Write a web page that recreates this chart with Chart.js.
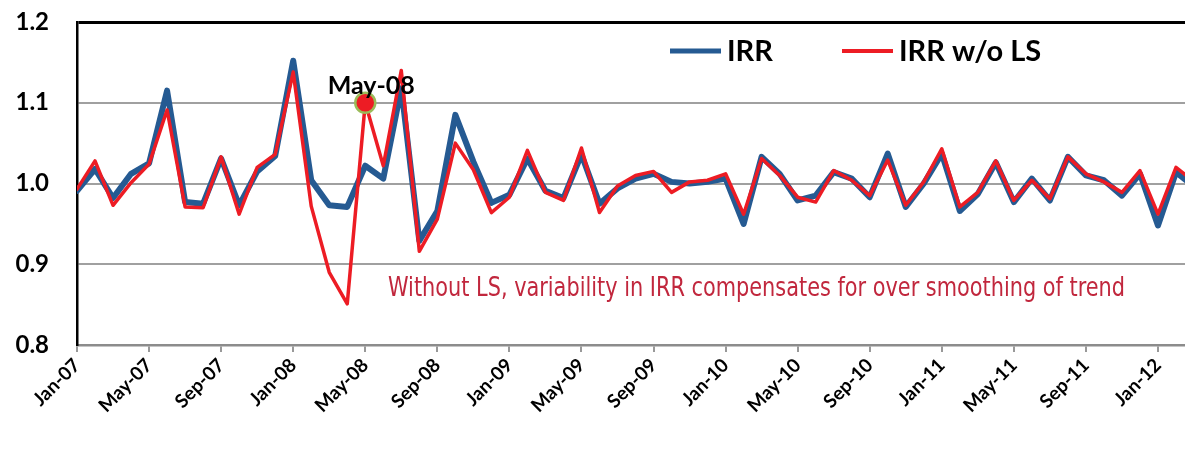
<!DOCTYPE html>
<html>
<head>
<meta charset="utf-8">
<script src="https://cdn.jsdelivr.net/npm/chart.js@4.4.1/dist/chart.umd.min.js"></script>
<style>
  html, body { margin: 0; padding: 0; background: #fff; }
  #wrap { width: 1185px; height: 465px; }
</style>
</head>
<body>
<div id="wrap"><canvas id="irr" width="1185" height="465"></canvas></div>
<script>
// Meses Jan-07 .. Mar-12 (o último fica cortado na borda direita)
const mesesNome = ['Jan', 'Feb', 'Mar', 'Apr', 'May', 'Jun', 'Jul', 'Aug', 'Sep', 'Oct', 'Nov', 'Dec'];
const anos = ['07', '08', '09', '10', '11', '12'];
const meses = [];
anos.forEach((a) => mesesNome.forEach((m) => meses.push(m + '-' + a)));
meses.length = 63;

// valores
const irr = [
  0.991, 1.018, 0.982, 1.012, 1.025, 1.115, 0.977, 0.975, 1.031, 0.973, 1.015, 1.034,
  1.152, 1.004, 0.973, 0.971, 1.022, 1.006, 1.118, 0.929, 0.966, 1.085, 1.027, 0.976,
  0.986, 1.031, 0.991, 0.982, 1.036, 0.975, 0.994, 1.006, 1.012, 1.002, 1.000, 1.002,
  1.006, 0.950, 1.033, 1.012, 0.979, 0.985, 1.014, 1.006, 0.983, 1.037, 0.971, 1.000,
  1.037, 0.966, 0.987, 1.026, 0.977, 1.006, 0.979, 1.033, 1.010, 1.004, 0.985, 1.012,
  0.948, 1.014, 0.996
];
const irrSemLS = [
  0.993, 1.028, 0.973, 1.001, 1.024, 1.091, 0.971, 0.970, 1.033, 0.962, 1.020, 1.036,
  1.138, 0.972, 0.890, 0.851, 1.100, 1.022, 1.140, 0.916, 0.956, 1.050, 1.017, 0.964,
  0.983, 1.041, 0.989, 0.979, 1.044, 0.964, 0.997, 1.010, 1.015, 0.989, 1.002, 1.004,
  1.012, 0.962, 1.031, 1.010, 0.983, 0.977, 1.016, 1.004, 0.985, 1.029, 0.973, 1.002,
  1.043, 0.971, 0.989, 1.028, 0.979, 1.004, 0.981, 1.033, 1.012, 1.002, 0.989, 1.016,
  0.962, 1.020, 1.002
];
const yTicks = [0.8, 0.9, 1.0, 1.1, 1.2];
const xTickMeses = ['Jan-07', 'May-07', 'Sep-07', 'Jan-08', 'May-08', 'Sep-08', 'Jan-09', 'May-09',
  'Sep-09', 'Jan-10', 'May-10', 'Sep-10', 'Jan-11', 'May-11', 'Sep-11', 'Jan-12'];
const destaque = 'May-08';
const nota = 'Without LS, variability in IRR compensates for over smoothing of trend';

const AZUL = '#255a92', VERMELHO = '#ed1c24';
const iDestaque = meses.indexOf(destaque);

// legenda desenhada dentro da área do gráfico, como no original
const legendaInterna = {
  id: 'legendaInterna',
  afterDraw(chart) {
    const ctx = chart.ctx;
    const itens = [
      { x: 670, ds: chart.data.datasets[0], lw: 5 },
      { x: 842, ds: chart.data.datasets[1], lw: 4 }
    ];
    ctx.save();
    ctx.font = "bold 29px Lato, 'Open Sans', sans-serif";
    ctx.textBaseline = 'middle';
    itens.forEach((it) => {
      ctx.strokeStyle = it.ds.borderColor;
      ctx.lineWidth = it.lw;
      ctx.beginPath();
      ctx.moveTo(it.x, 51);
      ctx.lineTo(it.x + 51, 51);
      ctx.stroke();
      ctx.fillStyle = '#000';
      ctx.fillText(it.ds.label, it.x + 57, 52);
    });
    ctx.restore();
  }
};

// caixa de texto da nota + rótulo do ponto May-08
const anotacoes = {
  id: 'anotacoes',
  beforeDatasetsDraw(chart) {
    const ctx = chart.ctx;
    ctx.save();
    ctx.fillStyle = '#fff';
    ctx.fillRect(369, 265, 768, 44);
    ctx.font = "27px 'DejaVu Sans Condensed', 'DejaVu Sans', sans-serif";
    const w = ctx.measureText(nota).width;
    ctx.translate(388, 296);
    ctx.scale(737 / w, 1);
    ctx.fillStyle = '#c1273d';
    ctx.textBaseline = 'alphabetic';
    ctx.fillText(nota, 0, 0);
    ctx.restore();
  },
  afterDatasetsDraw(chart) {
    const p = chart.getDatasetMeta(1).data[iDestaque];
    const ctx = chart.ctx;
    ctx.save();
    ctx.font = "bold 25px Lato, 'Open Sans', sans-serif";
    ctx.fillStyle = '#000';
    ctx.textAlign = 'center';
    ctx.textBaseline = 'alphabetic';
    ctx.fillText(destaque, p.x + 6, p.y - 9);
    ctx.restore();
  }
};

new Chart(document.getElementById('irr'), {
  type: 'line',
  data: {
    datasets: [
      {
        label: 'IRR', data: irr.map((v, i) => ({ x: i, y: v })), order: 2,
        borderColor: AZUL, borderWidth: 6, pointRadius: 0,
        borderJoinStyle: 'round', borderCapStyle: 'round', tension: 0
      },
      {
        label: 'IRR w/o LS', data: irrSemLS.map((v, i) => ({ x: i, y: v })), order: 1,
        borderColor: VERMELHO, borderWidth: 3.5,
        pointRadius: (c) => (c.dataIndex === iDestaque ? 10 : 0),
        pointBackgroundColor: VERMELHO, pointBorderColor: '#9bbb59', pointBorderWidth: 2.5,
        borderJoinStyle: 'round', borderCapStyle: 'round', tension: 0
      }
    ]
  },
  options: {
    responsive: false, animation: false,
    layout: { padding: { top: 22, right: 0, left: 0, bottom: 0 } },
    plugins: { legend: { display: false }, tooltip: { enabled: false } },
    scales: {
      x: {
        type: 'linear', min: 0, max: 61.5,
        afterFit: (s) => { s.height = 120; s.paddingLeft = 0; s.paddingRight = 0; },
        afterBuildTicks: (s) => { s.ticks = xTickMeses.map((m) => ({ value: meses.indexOf(m) })); },
        grid: { drawOnChartArea: false, drawTicks: true, tickLength: 7, color: '#999', lineWidth: 2 },
        border: { color: '#8c8c8c', width: 2.5 },
        ticks: {
          autoSkip: false, minRotation: 45, maxRotation: 45, padding: 2, color: '#000',
          font: { family: "Lato, 'Open Sans', sans-serif", size: 19, weight: 'bold' },
          callback: (v) => meses[v]
        }
      },
      y: {
        min: 0.8, max: 1.2,
        afterFit: (s) => { s.width = 77; s.paddingTop = 0; s.paddingBottom = 0; },
        afterBuildTicks: (s) => { s.ticks = yTicks.map((v) => ({ value: v })); },
        grid: {
          drawTicks: false,
          color: (c) => (c.tick && c.tick.value === 1.2 ? '#000' : '#a0a0a0'),
          lineWidth: (c) => (c.tick && c.tick.value === 1.2 ? 3 : 2)
        },
        border: { color: '#000', width: 2.5 },
        ticks: {
          padding: 28, color: '#000',
          font: { family: "Lato, 'Open Sans', sans-serif", size: 24, weight: 'bold' },
          callback: (v) => Number(v).toFixed(1)
        }
      }
    }
  },
  plugins: [anotacoes, legendaInterna]
});
</script>
</body>
</html>
